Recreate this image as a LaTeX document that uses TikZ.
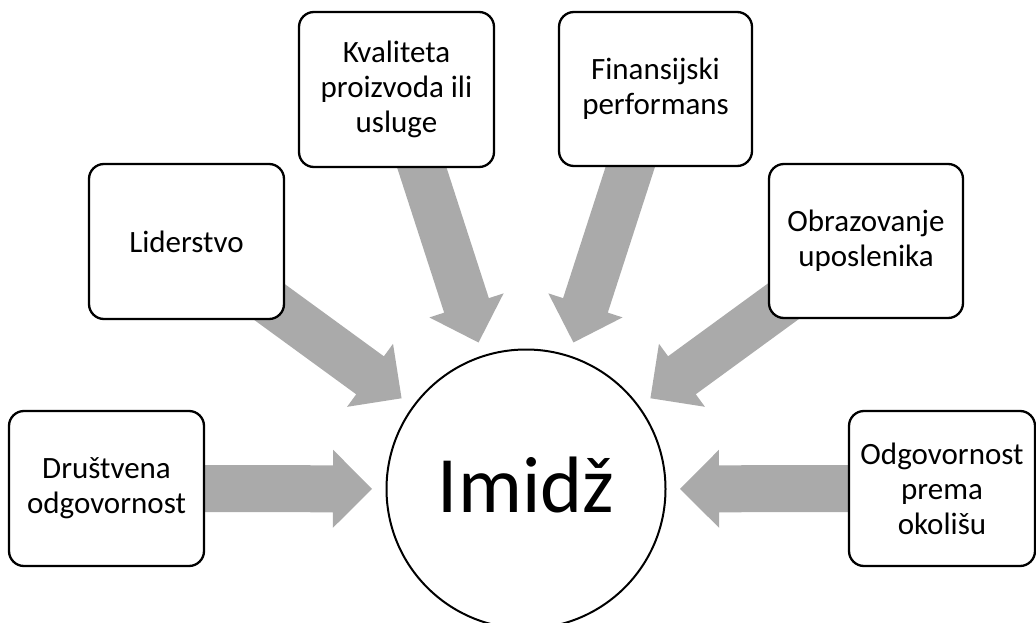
\documentclass[tikz,border=0pt]{standalone}
\usepackage{fontspec}
\setmainfont{Carlito}
\usetikzlibrary{calc,backgrounds}
\definecolor{arrowgray}{RGB}{170,170,170}
\newcommand{\radarrow}[1]{%
  \path ($(ctr.center)!154pt!(#1.center)$) coordinate (t#1)
        ($(ctr.center)!193pt!(#1.center)$) coordinate (h#1);
  \fill[arrowgray] (t#1)
    -- ($(h#1)!39pt!90:(#1.center)$)
    -- ($(h#1)!23.5pt!90:(#1.center)$)
    -- ($(#1.center)!23.5pt!-90:(ctr.center)$)
    -- ($(#1.center)!23.5pt!90:(ctr.center)$)
    -- ($(h#1)!23.5pt!-90:(#1.center)$)
    -- ($(h#1)!39pt!-90:(#1.center)$)
    -- cycle;}
\tikzset{
  box/.style={draw, fill=white, rectangle, rounded corners=15pt, line width=2.3pt,
    inner sep=0pt, align=center, font=\fontsize{31}{35}\selectfont},
  hub/.style={draw, fill=white, circle, line width=2pt, inner sep=0pt, minimum size=279pt}
}
\begin{document}
\begin{tikzpicture}[x=1pt,y=-1pt]
\useasboundingbox (0,0) rectangle (1036,623);
\node[hub] (ctr) at (526,489) {};
\node[anchor=base, font=\fontsize{80}{90}\selectfont] (lbl) at (526,512) {Imidž};
\node[box, minimum width=195pt, minimum height=155pt] (b1) at (106.5,488.5) {Društvena\\odgovornost};
\node[box, minimum width=195pt, minimum height=155pt] (b2) at (186.5,241.5) {Liderstvo};
\node[box, minimum width=195pt, minimum height=155pt] (b3) at (396.5,89.5) {Kvaliteta\\proizvoda ili\\usluge};
\node[box, minimum width=193pt, minimum height=154pt] (b4) at (655.5,89) {Finansijski\\performans};
\node[box, minimum width=194pt, minimum height=154pt] (b5) at (866,241) {Obrazovanje\\uposlenika};
\node[box, minimum width=186pt, minimum height=155pt] (b6) at (942,488.5) {Odgovornost\\prema\\okolišu};
\begin{pgfonlayer}{background}
\radarrow{b1}
\radarrow{b2}
\radarrow{b3}
\radarrow{b4}
\radarrow{b5}
\radarrow{b6}
\end{pgfonlayer}
\end{tikzpicture}
\end{document}
